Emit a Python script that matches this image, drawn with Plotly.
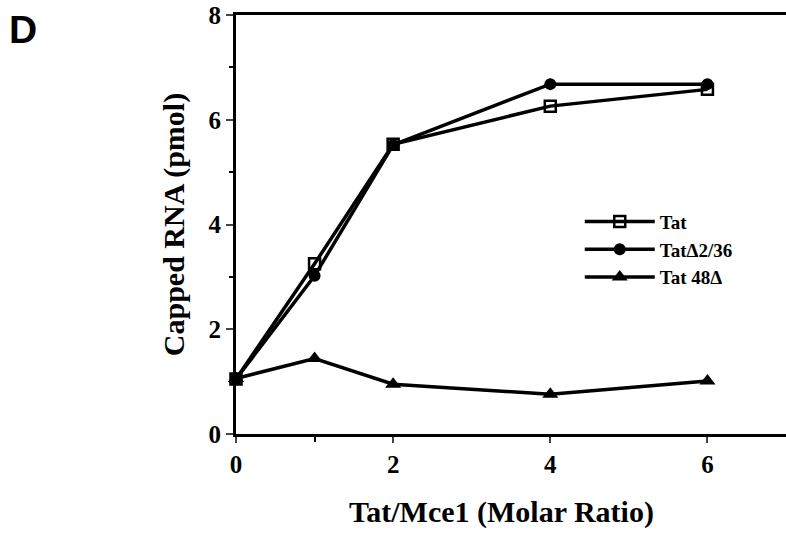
import plotly.graph_objects as go

ratio = [0, 1, 2, 4, 6]
tat = [1.05, 3.25, 5.53, 6.26, 6.58]
tat_d236 = [1.05, 3.02, 5.52, 6.68, 6.68]
tat_48d = [1.06, 1.44, 0.95, 0.76, 1.01]
names = ["Tat", "TatΔ2/36", "Tat 48Δ"]

font_serif = "Liberation Serif"

fig = go.Figure()
fig.add_trace(go.Scatter(x=ratio, y=tat, name=names[0], mode="lines+markers",
                         line=dict(color="black", width=3.5),
                         marker=dict(symbol="square-open", size=11, color="black", line=dict(width=2.5)),
                         cliponaxis=False))
fig.add_trace(go.Scatter(x=ratio, y=tat_d236, name=names[1], mode="lines+markers",
                         line=dict(color="black", width=3.5),
                         marker=dict(symbol="circle", size=12, color="black"),
                         cliponaxis=False))
fig.add_trace(go.Scatter(x=ratio, y=tat_48d, name=names[2], mode="lines+markers",
                         line=dict(color="black", width=3.5),
                         marker=dict(symbol="triangle-up", size=14, color="black"),
                         cliponaxis=False))

fig.update_layout(
    width=786, height=534,
    margin=dict(l=236, r=0, t=15, b=100),
    paper_bgcolor="white", plot_bgcolor="white",
    font=dict(family=font_serif, color="black"),
    showlegend=True,
    legend=dict(x=0.625, y=0.552, xanchor="left", yanchor="top",
                font=dict(family=font_serif, size=19, color="black", weight="bold"),
                bgcolor="rgba(0,0,0,0)", tracegroupgap=0, itemwidth=70),
    xaxis=dict(range=[0, 7], tickvals=[0, 2, 4, 6], ticks="outside", ticklen=6, tickwidth=2,
               showline=True, linecolor="black", linewidth=3, mirror=True,
               showgrid=False, zeroline=False,
               minor=dict(tickvals=[1], ticks="outside", ticklen=5, tickwidth=2, tickcolor="black"),
               tickfont=dict(family=font_serif, size=25, weight="bold")),
    yaxis=dict(range=[0, 8], tickvals=[0, 2, 4, 6, 8], ticks="outside", ticklen=7, tickwidth=2,
               showline=True, linecolor="black", linewidth=3,
               showgrid=False, zeroline=False,
               minor=dict(tickvals=[1, 3, 5, 7], ticks="outside", ticklen=4, tickwidth=2, tickcolor="black"),
               tickfont=dict(family=font_serif, size=25, weight="bold"),
               title=dict(text="Capped RNA (pmol)", standoff=16,
                          font=dict(family=font_serif, size=30, weight="bold"))),
)
fig.add_annotation(text="Tat/Mce1 (Molar Ratio)", xref="paper", yref="paper",
                   x=(501 - 236) / 550, y=-(512 - 434) / 419, xanchor="center", yanchor="middle",
                   showarrow=False, font=dict(family=font_serif, size=30, weight="bold", color="black"))
fig.add_annotation(text="D", xref="paper", yref="paper", x=-229/550, y=1 + 9/419,
                   xanchor="left", yanchor="top", showarrow=False,
                   font=dict(family="Liberation Sans", size=39, weight="bold", color="black"))

fig.write_html("out.html")
